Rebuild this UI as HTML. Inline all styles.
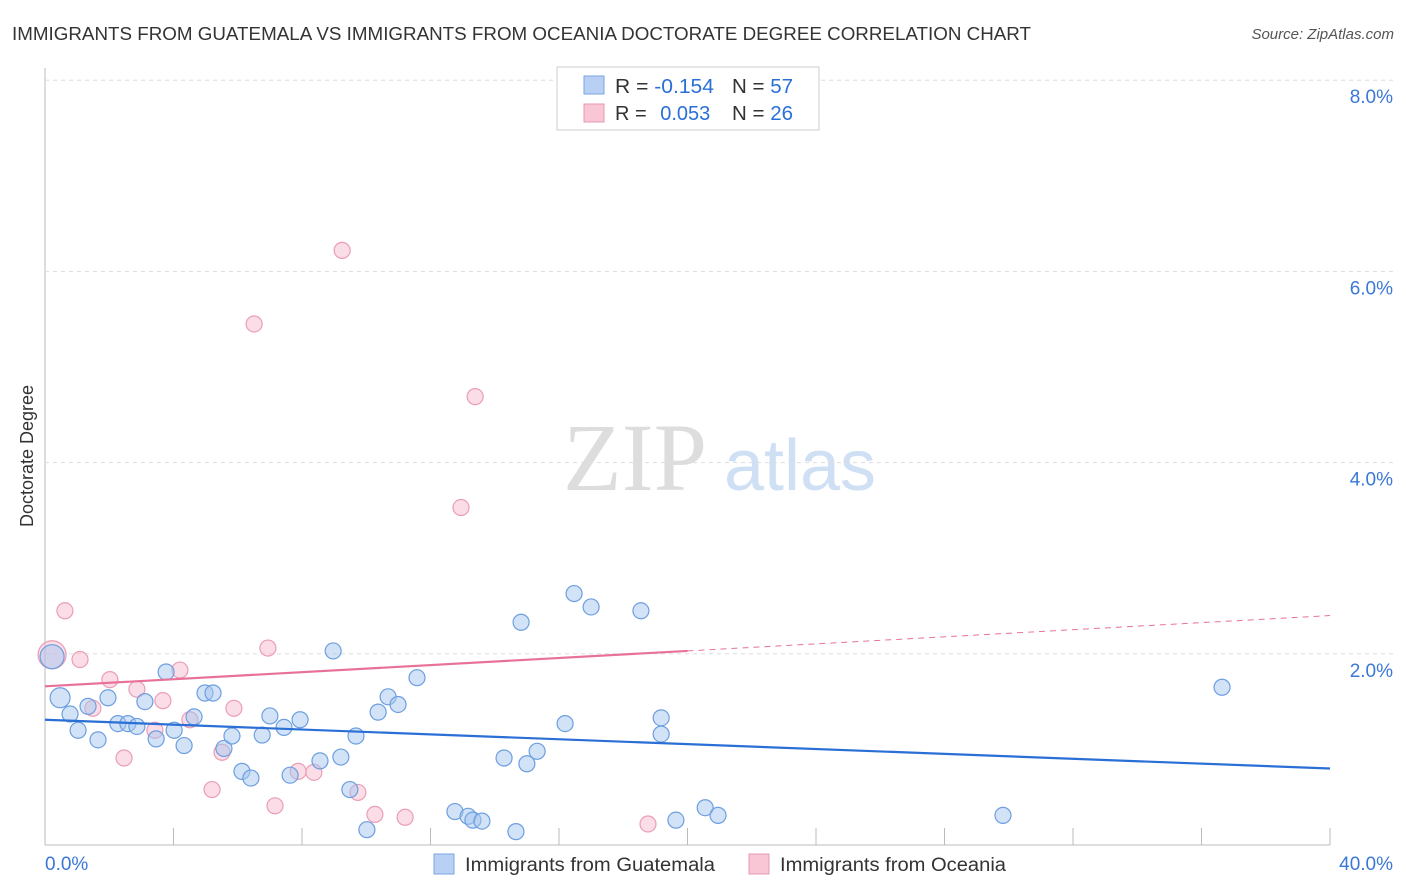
<!DOCTYPE html>
<html><head><meta charset="utf-8"><style>
body{margin:0;background:#fff;font-family:"Liberation Sans",sans-serif;}
#c{position:relative;width:1406px;height:892px;}
</style></head><body>
<div id="c">
<svg id="s" width="1406" height="892" xmlns="http://www.w3.org/2000/svg" style="position:absolute;left:0;top:0">
<text x="12" y="40" font-size="18" fill="#333" textLength="1019" lengthAdjust="spacingAndGlyphs">IMMIGRANTS FROM GUATEMALA VS IMMIGRANTS FROM OCEANIA DOCTORATE DEGREE CORRELATION CHART</text>
<text x="1394" y="39" font-size="15" fill="#555" font-style="italic" text-anchor="end">Source: ZipAtlas.com</text>
<text x="33" y="456" font-size="18" fill="#333" text-anchor="middle" transform="rotate(-90 33 456)">Doctorate Degree</text>
<g><text x="635" y="490" font-size="96" fill="#ddd" font-family="Liberation Serif,serif" text-anchor="middle">ZIP</text><text x="800" y="490" font-size="72" fill="#cfe0f5" text-anchor="middle">atlas</text></g>
<g id="grid"></g><g id="marks"></g>
<g>
<rect x="557" y="67" width="262" height="63" fill="#fff" stroke="#ccc"/>
<rect x="584" y="76" width="20" height="18" fill="#b8d0f3" stroke="#7aa5e0"/>
<rect x="584" y="104" width="20" height="18" fill="#f8c6d5" stroke="#e99ab3"/>
<text x="615" y="93" font-size="20" fill="#333" textLength="99" lengthAdjust="spacingAndGlyphs">R = <tspan fill="#2a6fd6">-0.154</tspan></text>
<text x="732" y="93" font-size="20" fill="#333" textLength="61" lengthAdjust="spacingAndGlyphs">N = <tspan fill="#2a6fd6">57</tspan></text>
<text x="615" y="120" font-size="20" fill="#333">R = <tspan fill="#2a6fd6" dx="8">0.053</tspan></text>
<text x="732" y="120" font-size="20" fill="#333" textLength="61" lengthAdjust="spacingAndGlyphs">N = <tspan fill="#2a6fd6">26</tspan></text>
</g>
<g>
<rect x="434" y="854" width="20" height="20" fill="#b8d0f3" stroke="#7aa5e0"/>
<text x="465" y="871" font-size="19" fill="#333" textLength="250" lengthAdjust="spacingAndGlyphs">Immigrants from Guatemala</text>
<rect x="749" y="854" width="20" height="20" fill="#f8c6d5" stroke="#e99ab3"/>
<text x="780" y="871" font-size="19" fill="#333" textLength="226" lengthAdjust="spacingAndGlyphs">Immigrants from Oceania</text>
</g>
</svg></div>
<script>
const blueX=[0.22,0.47,0.78,1.03,1.34,1.65,1.96,2.27,2.58,2.86,3.11,3.46,3.77,4.02,4.33,4.64,4.98,5.23,5.57,5.82,6.13,6.41,6.76,7.00,7.44,7.63,7.94,8.56,8.97,9.21,9.49,9.68,10.02,10.37,10.68,10.99,11.58,12.76,13.17,13.32,13.60,14.29,14.66,14.82,15.00,15.32,16.19,16.47,17.00,18.55,19.18,19.18,19.64,20.55,20.95,29.82,36.64];
const blueY=[1.97,1.54,1.37,1.20,1.45,1.10,1.54,1.27,1.27,1.24,1.50,1.11,1.81,1.20,1.04,1.34,1.59,1.59,1.01,1.14,0.77,0.70,1.15,1.35,1.23,0.73,1.31,0.88,2.03,0.92,0.58,1.14,0.16,1.39,1.55,1.47,1.75,0.35,0.30,0.26,0.25,0.91,0.14,2.33,0.85,0.98,1.27,2.63,2.49,2.45,1.33,1.16,0.26,0.39,0.31,0.31,1.65];
const pinkX=[0.22,0.62,1.09,1.49,2.02,2.46,2.86,3.42,3.67,4.20,4.51,5.20,5.51,5.88,6.51,6.94,7.16,7.88,8.37,9.25,9.74,10.27,11.21,12.95,13.39,18.77];
const pinkY=[1.99,2.45,1.94,1.43,1.73,0.91,1.63,1.20,1.51,1.83,1.31,0.58,0.97,1.43,5.45,2.06,0.41,0.77,0.76,6.22,0.55,0.32,0.29,3.53,4.69,0.22];
const blueTrend=[1.31,0.80];
const pinkTrend=[1.66,2.40];
const pinkSolidEnd=20;
const yTicks=[2,4,6,8];
const xLabels=["0.0%","40.0%"];
const X=v=>45+v/40*1285, Y=v=>845-v*95.6;
const NS="http://www.w3.org/2000/svg";
const s=document.getElementById('s'),g=document.getElementById('grid'),m=document.getElementById('marks');
function mk(p,t,a){const e=document.createElementNS(NS,t);for(const k in a)e.setAttribute(k,a[k]);p.appendChild(e);return e;}
let e=mk(g,'line',{x1:45,y1:68,x2:45,y2:845,stroke:'#bbb'});


e=mk(g,'line',{x1:45,y1:845,x2:1330,y2:845,stroke:'#bbb'});


for(let i=0;i<=10;i++){e=mk(g,'line',{x1:X(i*4),y1:828,x2:X(i*4),y2:845,stroke:'#bbb'});

}
yTicks.forEach(t=>{e=mk(g,'line',{x1:45,y1:Y(t),x2:1394,y2:Y(t),stroke:'#ddd','stroke-dasharray':'4,4'});


e=mk(g,'text',{x:1393,y:Y(t)+23,'font-size':19,fill:'#3a78d6','text-anchor':'end'});e.textContent=t.toFixed(1)+'%';

});
e=mk(g,'text',{x:45,y:870,'font-size':19,fill:'#3a78d6'});e.textContent=xLabels[0];


e=mk(g,'text',{x:1393,y:870,'font-size':19,fill:'#3a78d6','text-anchor':'end'});e.textContent=xLabels[1];


pinkX.forEach((v,i)=>{e=mk(m,'circle',{cx:X(v),cy:Y(pinkY[i]),r:i==0?14:8,fill:'rgba(246,180,201,0.45)',stroke:'#eb9db6','stroke-width':1.2});

});
blueX.forEach((v,i)=>{e=mk(m,'circle',{cx:X(v),cy:Y(blueY[i]),r:i==0?12:(i==1?10:8),fill:'rgba(165,198,240,0.5)',stroke:'#6d9fe0','stroke-width':1.2});

});
const py=x=>pinkTrend[0]+(pinkTrend[1]-pinkTrend[0])*x/40;
e=mk(m,'line',{x1:X(0),y1:Y(blueTrend[0]),x2:X(40),y2:Y(blueTrend[1]),stroke:'#2a6fd6','stroke-width':2.2});


e=mk(m,'line',{x1:X(0),y1:Y(py(0)),x2:X(pinkSolidEnd),y2:Y(py(pinkSolidEnd)),stroke:'#e8719a','stroke-width':2.2});


e=mk(m,'line',{x1:X(pinkSolidEnd),y1:Y(py(pinkSolidEnd)),x2:X(40),y2:Y(py(40)),stroke:'#e8719a','stroke-width':1,'stroke-dasharray':'6,5'});


</script>
</body></html>
